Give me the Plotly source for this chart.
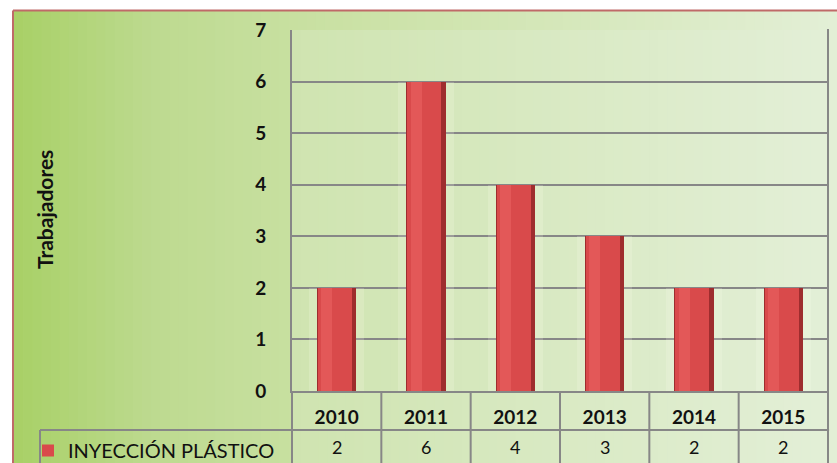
import plotly.graph_objects as go

# ---- data ----
years = ["2010", "2011", "2012", "2013", "2014", "2015"]
workers = [2, 6, 4, 3, 2, 2]
series_name = "INYECCIÓN PLÁSTICO"
y_title = "Trabajadores"
y_ticks = [0, 1, 2, 3, 4, 5, 6, 7]

# ---- geometry (pixels) ----
W, H = 837, 463
PL, PR, PT, PB = 292, 828, 30, 391          # plot area edges
pw, ph = PR - PL, PB - PT

def px(x):
    return (x - PL) / pw

def py(y):
    return (PB - y) / ph

def lerp_stops(t, stops):
    for i in range(len(stops) - 1):
        t0, c0 = stops[i]
        t1, c1 = stops[i + 1]
        if t0 <= t <= t1:
            f = (t - t0) / (t1 - t0) if t1 > t0 else 0
            return tuple(round(c0[k] + f * (c1[k] - c0[k])) for k in range(3))
    return stops[-1][1]

shapes = []

# outer gradient background
outer_stops = [(0.0, (168, 208, 102)), (0.17, (189, 218, 144)),
               (0.34, (200, 224, 160)), (1.0, (227, 239, 214))]
x_start, x_end = 14, W
n = 90
for i in range(n):
    xa = x_start + (x_end - x_start) * i / n
    xb = x_start + (x_end - x_start) * (i + 1) / n + 0.8
    t = (i + 0.5) / n
    c = lerp_stops(t, outer_stops)
    shapes.append(dict(type="rect", xref="paper", yref="paper", layer="below",
                       x0=px(xa), x1=px(min(xb, W)), y0=py(H), y1=py(11),
                       fillcolor="rgb(%d,%d,%d)" % c, line=dict(width=0)))

# plot-area lighter gradient (extends through the table)
inner_stops = [(0.0, (207, 228, 176)), (1.0, (227, 239, 215))]
n2 = 60
for i in range(n2):
    xa = PL + pw * i / n2
    xb = PL + pw * (i + 1) / n2 + 0.8
    t = (i + 0.5) / n2
    c = lerp_stops(t, inner_stops)
    shapes.append(dict(type="rect", xref="paper", yref="paper", layer="below",
                       x0=px(xa), x1=px(min(xb, PR)), y0=py(H), y1=py(PT),
                       fillcolor="rgb(%d,%d,%d)" % c, line=dict(width=0)))

# outer border (top + left)
border = "#bf6a68"
shapes.append(dict(type="line", xref="paper", yref="paper", x0=px(13), x1=px(W),
                   y0=py(10.5), y1=py(10.5), line=dict(color=border, width=2)))
shapes.append(dict(type="line", xref="paper", yref="paper", x0=px(13), x1=px(13),
                   y0=py(10.5), y1=py(H), line=dict(color=border, width=2)))

grid = "#878787"
# data table lines
shapes.append(dict(type="line", xref="paper", yref="paper", x0=0, x1=0,
                   y0=py(PB), y1=py(H), line=dict(color=grid, width=2)))
shapes.append(dict(type="line", xref="paper", yref="paper", x0=1, x1=1,
                   y0=py(PT - 1), y1=py(H), line=dict(color=grid, width=2)))
shapes.append(dict(type="line", xref="paper", yref="paper", x0=px(40), x1=1.002,
                   y0=py(430), y1=py(430), line=dict(color=grid, width=2)))
shapes.append(dict(type="line", xref="paper", yref="paper", x0=px(40), x1=px(40),
                   y0=py(430), y1=py(H), line=dict(color=grid, width=2)))
for i in range(len(years) - 1):
    shapes.append(dict(type="line", xref="x", yref="paper", x0=i + 0.5, x1=i + 0.5,
                       y0=py(PB), y1=py(H), line=dict(color=grid, width=2)))

fig = go.Figure()

bw = 0.44
# faint glow box behind bars
fig.add_trace(go.Bar(x=years, y=workers, width=0.62, marker=dict(color="rgba(255,255,240,0.18)",
                     line=dict(width=0)), showlegend=False, hoverinfo="skip"))
# dark base (edges)
fig.add_trace(go.Bar(x=years, y=workers, width=bw, marker=dict(color="#9e2d2e",
                     line=dict(width=0)), showlegend=False, hoverinfo="skip"))
# main red body
fig.add_trace(go.Bar(x=years, y=workers, width=bw - 0.06, offset=-bw / 2 + 0.01,
                     name=series_name,
                     marker=dict(color="#d94a4b", line=dict(color="#a33333", width=0))))
# light highlight stripe
fig.add_trace(go.Bar(x=years, y=workers, width=0.12, offset=-bw / 2 + 0.05,
                     marker=dict(color="rgba(235,100,100,0.55)", line=dict(width=0)),
                     showlegend=False, hoverinfo="skip"))

annotations = []
for i, v in enumerate(workers):
    annotations.append(dict(x=i, xref="x", y=py(447), yref="paper", text=str(v),
                            showarrow=False, font=dict(family="Lato", size=18, color="#111111"),
                            xanchor="center", yanchor="middle"))
annotations.append(dict(x=px(44), xref="paper", y=py(210), yref="paper", text="<b>%s</b>" % y_title,
                        textangle=-90, showarrow=False,
                        font=dict(family="Lato", size=21, color="#111111"),
                        xanchor="center", yanchor="middle"))

fig.update_layout(
    width=W, height=H, autosize=False,
    margin=dict(l=PL, r=W - PR, t=PT, b=H - PB, pad=0, autoexpand=False),
    paper_bgcolor="white", plot_bgcolor="rgba(0,0,0,0)",
    barmode="overlay", bargap=0,
    shapes=shapes, annotations=annotations,
    showlegend=True,
    legend=dict(x=px(28), y=py(431), xanchor="left", yanchor="top",
                bgcolor="rgba(0,0,0,0)", borderwidth=0,
                font=dict(family="Lato", size=20, color="#111111"),
                itemsizing="constant"),
    font=dict(family="Lato", color="#111111"),
)
fig.update_xaxes(type="category", categoryorder="array", categoryarray=years,
                 range=[-0.5, len(years) - 0.5], autorange=False,
                 showgrid=False, zeroline=False, showline=True, linecolor=grid, linewidth=2,
                 ticks="", ticklabelstandoff=8,
                 tickfont=dict(family="Lato", size=19, color="#111111", weight="bold"))
fig.update_yaxes(range=[0, 7], tickvals=y_ticks, showgrid=True, gridcolor=grid, gridwidth=2,
                 zeroline=False, showline=True, linecolor=grid, linewidth=2,
                 ticks="", ticklabelstandoff=20,
                 tickfont=dict(family="Lato", size=19, color="#111111", weight="bold"))

fig.write_html("out.html", config={"displayModeBar": False},
               post_script="document.body.style.margin='0';document.body.style.overflow='hidden';")
